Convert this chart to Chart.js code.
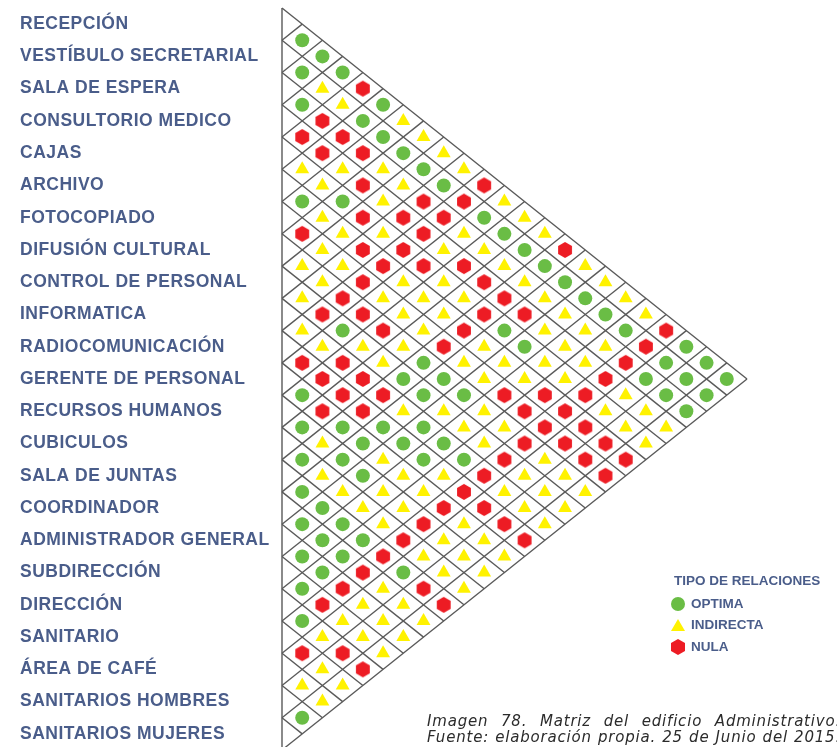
<!DOCTYPE html>
<html lang="es">
<head>
<meta charset="utf-8">
<title>Matriz del edificio Administrativo</title>
<script src="https://cdn.jsdelivr.net/npm/chart.js@4.4.1/dist/chart.umd.min.js"></script>
<style>
    html, body { margin: 0; padding: 0; background: #fff; }
    body {
        width: 837px;
        height: 747px;
        overflow: hidden;
        position: relative;
        font-family: "Liberation Sans", Arial, sans-serif;
    }
    #matrixChart { position: absolute; left: 0; top: 0; }

    .legend-title,
    .legend-item {
        position: absolute;
        color: #4a5d8a;
        font-weight: bold;
        font-size: 13.5px;
        line-height: 16px;
        white-space: nowrap;
    }
    .legend-title { left: 674px; top: 573px; }
    .legend-item { left: 671px; padding-left: 20px; }
    .legend-item .mark { position: absolute; left: 0; }
    .mark.optima { top: 1px; width: 14px; height: 14px; border-radius: 50%; background: #6abd45; }
    .mark.indirecta { top: 2px; width: 14px; height: 12px; background: #fff200; clip-path: polygon(50% 0, 100% 100%, 0 100%); }
    .mark.nula { top: 0; width: 14px; height: 16px; background: #ed1c24; clip-path: polygon(50% 0, 100% 25%, 100% 75%, 50% 100%, 0 75%, 0 25%); }

    .caption {
        position: absolute;
        left: 427px;
        top: 713px;
        width: 414px;
        color: #2b2b2b;
        font-family: "DejaVu Sans", Verdana, sans-serif;
        font-style: italic;
        font-size: 15px;
        letter-spacing: 0.8px;
        line-height: 16px;
    }
    .caption div { text-align: justify; text-align-last: justify; }
</style>
</head>
<body>
<canvas id="matrixChart" width="837" height="760"></canvas>

<div class="legend-title">TIPO DE RELACIONES</div>
<div class="legend-item" style="top: 596px;"><span class="mark optima"></span>OPTIMA</div>
<div class="legend-item" style="top: 617px;"><span class="mark indirecta"></span>INDIRECTA</div>
<div class="legend-item" style="top: 639px;"><span class="mark nula"></span>NULA</div>

<div class="caption">
    <div>Imagen 78. Matriz del edificio Administrativo.</div>
    <div>Fuente: elaboración propia. 25 de Junio del 2015.</div>
</div>

<script>
// spaces of the building, top to bottom
const ROWS = [
    'RECEPCIÓN',
    'VESTÍBULO SECRETARIAL',
    'SALA DE ESPERA',
    'CONSULTORIO MEDICO',
    'CAJAS',
    'ARCHIVO',
    'FOTOCOPIADO',
    'DIFUSIÓN CULTURAL',
    'CONTROL DE PERSONAL',
    'INFORMATICA',
    'RADIOCOMUNICACIÓN',
    'GERENTE DE PERSONAL',
    'RECURSOS HUMANOS',
    'CUBICULOS',
    'SALA DE JUNTAS',
    'COORDINADOR',
    'ADMINISTRADOR GENERAL',
    'SUBDIRECCIÓN',
    'DIRECCIÓN',
    'SANITARIO',
    'ÁREA DE CAFÉ',
    'SANITARIOS HOMBRES',
    'SANITARIOS MUJERES'
];

// relation of row i with every row below it (j = i+1 ... last)
// O = optima, I = indirecta, N = nula
const RELATIONS = [
    'OOONOIIIINIIINIIIINOOO',
    'OIIOOOOONOOOOOOOONOOO',
    'ONNNIINNIIIIIIIINOOO',
    'NNININNINNNNIIINIII',
    'IIONINNIINOOIINIII',
    'OIINNIIINIIINNNNN',
    'NIINIIINIINNNNNN',
    'IINNNIOOOIINIII',
    'INOIIOOIIINIII',
    'IINNNIOOONIII',
    'NNNNOOOINNNN',
    'ONOOIIINIII',
    'OIOOIINIII',
    'OIIIINIII',
    'OOOONONN',
    'OOONIII',
    'OONIII',
    'ONIII',
    'OINN',
    'NII',
    'II',
    'O'
];

const RELATION_TYPES = ['O', 'I', 'N'];
const RELATION_NAMES = ['OPTIMA', 'INDIRECTA', 'NULA'];

(function () {
    const LABEL_COLOR = '#4a5d8a';
    const GRID_COLOR = '#5a5a5a';
    const N = ROWS.length;

    // pair (i, j) sits half way between both rows, (j - i) steps to the right
    function pointsFor(code) {
        const pts = [];
        RELATIONS.forEach((row, i) => {
            Array.from(row).forEach((c, n) => {
                const j = i + 1 + n;
                if (c === code) {
                    pts.push({ x: j - i, y: (i + j) / 2 });
                }
            });
        });
        return pts;
    }

    function hexagonImage(radius, color) {
        const size = Math.ceil(radius * 2) + 2;
        const c = document.createElement('canvas');
        c.width = size;
        c.height = size;
        const ctx = c.getContext('2d');
        ctx.fillStyle = color;
        ctx.beginPath();
        for (let k = 0; k < 6; k++) {
            const a = Math.PI / 2 + k * Math.PI / 3;
            const px = size / 2 + radius * Math.cos(a);
            const py = size / 2 - radius * Math.sin(a);
            if (k === 0) ctx.moveTo(px, py); else ctx.lineTo(px, py);
        }
        ctx.closePath();
        ctx.fill();
        return c;
    }

    // diagonal lattice: every row band border runs down-right and up-right
    const gridSets = [];
    function addLine(a, b) {
        gridSets.push({
            data: [a, b],
            showLine: true,
            pointRadius: 0,
            borderColor: GRID_COLOR,
            borderWidth: 1.4,
            clip: false,
            order: 10
        });
    }
    for (let b = -0.5; b <= N - 0.5; b += 1) {
        if (b < N - 0.5) {
            addLine({ x: 0, y: b }, { x: N - 0.5 - b, y: (b + N - 0.5) / 2 });
        }
        if (b > -0.5) {
            addLine({ x: 0, y: b }, { x: b + 0.5, y: (b - 0.5) / 2 });
        }
    }
    addLine({ x: 0, y: -0.5 }, { x: 0, y: N - 0.5 });

    const markerStyles = {
        O: { pointStyle: 'circle', pointRadius: 7, pointBackgroundColor: '#6abd45' },
        I: { pointStyle: 'triangle', pointRadius: 8, pointBackgroundColor: '#fff200' },
        N: { pointStyle: hexagonImage(8, '#ed1c24'), pointRadius: 8, pointBackgroundColor: '#ed1c24' }
    };

    const markerSets = RELATION_TYPES.map((code, idx) => Object.assign({
        label: RELATION_NAMES[idx],
        data: pointsFor(code),
        showLine: false,
        pointBorderWidth: 0,
        clip: false,
        order: 1
    }, markerStyles[code]));

    // a little tracking on the row labels, like the original lettering
    const labelSpacing = {
        id: 'labelSpacing',
        beforeDraw(chart) { chart.ctx.letterSpacing = '0.5px'; },
        afterDraw(chart) { chart.ctx.letterSpacing = '0px'; }
    };

    new Chart(document.getElementById('matrixChart'), {
        type: 'scatter',
        data: { datasets: gridSets.concat(markerSets) },
        plugins: [labelSpacing],
        options: {
            responsive: false,
            animation: false,
            events: [],
            layout: { padding: { left: 20, right: 90, top: 6, bottom: 10 } },
            plugins: {
                legend: { display: false },
                tooltip: { enabled: false }
            },
            scales: {
                x: {
                    type: 'linear',
                    min: 0,
                    max: N,
                    display: false
                },
                y: {
                    type: 'linear',
                    min: -0.5,
                    max: N - 0.5,
                    reverse: true,
                    grid: { display: false },
                    border: { display: false },
                    afterBuildTicks(scale) {
                        scale.ticks = ROWS.map((_, i) => ({ value: i }));
                    },
                    afterFit(scale) {
                        scale.width = 262;
                        // labels sit well inside the band, no extra room needed
                        scale.paddingTop = 0;
                        scale.paddingBottom = 0;
                    },
                    ticks: {
                        crossAlign: 'far',
                        color: LABEL_COLOR,
                        autoSkip: false,
                        font: { family: '"Liberation Sans", Arial, sans-serif', size: 17.5, weight: 'bold' },
                        callback: value => ROWS[value] || ''
                    }
                }
            }
        }
    });
})();
</script>
</body>
</html>
